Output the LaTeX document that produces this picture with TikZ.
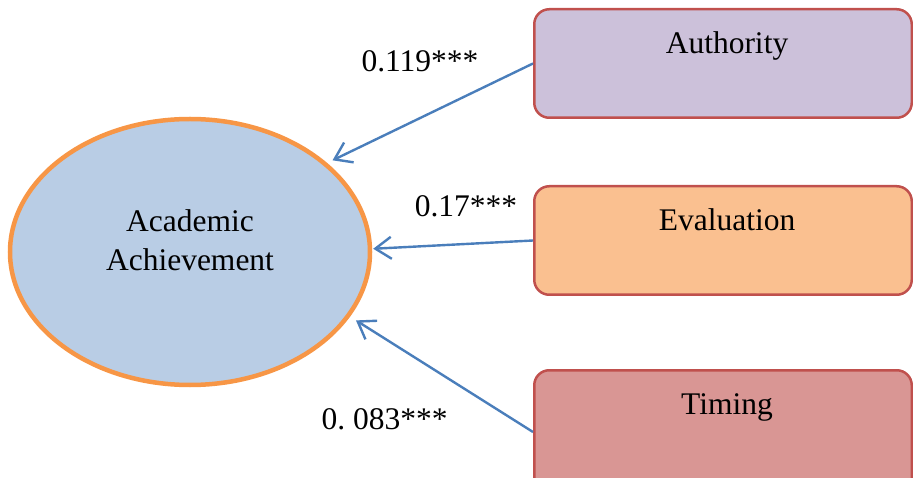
\documentclass[tikz,border=0pt]{standalone}
\usepackage{fontspec}
\setmainfont{Liberation Serif}
\usetikzlibrary{shapes.geometric,arrows.meta}
\definecolor{authfill}{HTML}{CCC1DA}
\definecolor{evalfill}{HTML}{FAC090}
\definecolor{timfill}{HTML}{D99694}
\definecolor{boxline}{HTML}{C0504D}
\definecolor{ellfill}{HTML}{B9CDE5}
\definecolor{ellline}{HTML}{F79646}
\definecolor{arrowblue}{HTML}{4A7EBB}
\tikzset{
  bigfont/.style={font=\fontsize{31.5pt}{39pt}\selectfont},
  factorbox/.style={draw=boxline, line width=2.5pt, rounded corners=15pt,
    anchor=north west, inner xsep=0pt, inner ysep=0pt, text width=377.5pt,
    align=center, text height=44.5pt, bigfont,
    execute at begin node={\hspace*{8pt}}},
  outcome/.style={ellipse, draw=ellline, fill=ellfill, line width=4.5pt,
    minimum width=360pt, minimum height=266pt, inner sep=0pt,
    text width=200pt, align=center, text height=20pt, text depth=60pt, bigfont},
  effect/.style={draw=arrowblue, line width=2.4pt,
    -{Straight Barb[length=16pt,width=22pt]}},
  coef/.style={anchor=base, inner sep=0pt, bigfont}
}
\begin{document}
\begin{tikzpicture}[x=1pt,y=-1pt]
\useasboundingbox (0,0) rectangle (913,478);
\clip (0,0) rectangle (913,478);
\node[outcome] (ach) at (190,252) {Academic\\Achievement};
\node[factorbox, fill=authfill, text depth=64pt] (auth) at (533,8) {Authority};
\node[factorbox, fill=evalfill, text depth=64pt] (eval) at (533,185) {Evaluation};
\node[factorbox, fill=timfill, text depth=79pt] (tim) at (533,369) {Timing};
\draw[effect, shorten >=6pt] (auth.west) -- (ach.33.9);
\draw[effect, shorten >=1pt] (eval.west) -- (ach.1.25);
\draw[effect, shorten >=7pt] (tim.west) -- (ach.-22.7);
\node[coef] (c1) at (420,72) {0.119***};
\node[coef] (c2) at (466,217) {0.17***};
\node[coef] (c3) at (384.5,429) {0.\ 083***};
\end{tikzpicture}
\end{document}
